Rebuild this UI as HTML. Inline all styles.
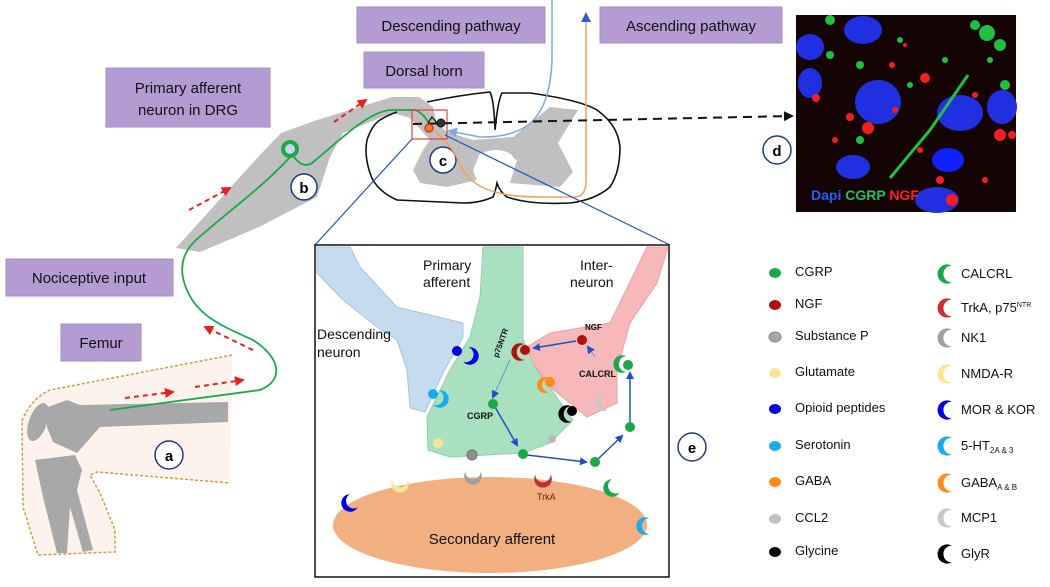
<!DOCTYPE html>
<html><head><meta charset="utf-8"><style>
html,body{margin:0;padding:0;background:#fff;}
svg{display:block;font-family:"Liberation Sans",sans-serif;}
</style></head><body>
<svg width="1050" height="587" viewBox="0 0 1050 587" xmlns="http://www.w3.org/2000/svg">
<defs>
<path id="cr" d="M4,-7 A8,8 0 1,0 4,7 A7,7 0 0,1 4,-7Z"/>
<marker id="ab" markerWidth="8" markerHeight="8" refX="6" refY="4" orient="auto" markerUnits="userSpaceOnUse"><path d="M0,0 L8,4 L0,8Z" fill="#2050c0"/></marker>
<marker id="ar" markerWidth="10" markerHeight="10" refX="8" refY="5" orient="auto" markerUnits="userSpaceOnUse"><path d="M0,0 L10,5 L0,10Z" fill="#e82020"/></marker>
<marker id="ak" markerWidth="10" markerHeight="10" refX="8" refY="5" orient="auto" markerUnits="userSpaceOnUse"><path d="M0,0 L10,5 L0,10Z" fill="#111"/></marker>
<marker id="al" markerWidth="10" markerHeight="10" refX="8" refY="5" orient="auto" markerUnits="userSpaceOnUse"><path d="M0,0 L10,5 L0,10Z" fill="#7ea6e8"/></marker>
<marker id="at" markerWidth="10" markerHeight="10" refX="8" refY="5" orient="auto" markerUnits="userSpaceOnUse"><path d="M0,0 L10,5 L0,10Z" fill="#3060c0"/></marker>
</defs>

<!-- purple labels -->
<g fill="#b49bd1" stroke="#a68cc4">
<rect x="357" y="7" width="188" height="36"/>
<rect x="600" y="7" width="182" height="36"/>
<rect x="364" y="52" width="120" height="36"/>
<rect x="106" y="68" width="164" height="59"/>
<rect x="6" y="259" width="167" height="37"/>
<rect x="61" y="324" width="80" height="37"/>
</g>
<g font-size="15" fill="#111" text-anchor="middle">
<text x="451" y="31">Descending pathway</text>
<text x="691" y="31">Ascending pathway</text>
<text x="424" y="76">Dorsal horn</text>
<text x="188" y="93">Primary afferent</text>
<text x="188" y="115">neuron in DRG</text>
<text x="89" y="283">Nociceptive input</text>
<text x="101" y="348">Femur</text>
</g>

<!-- leg -->
<path d="M232,355 L50,390 Q33,397 22,420 L23,507 L38,555 L115,552 L115,530 L100,493 L90,475 L97,472 L230,483" fill="#fdf3ec" stroke="#c8a040" stroke-width="1.5" stroke-dasharray="3,2"/>
<path d="M48,407 L67,400 L80,405 L228,402 L228,422 L100,427 L77,453 L53,442 L47,427Z" fill="#a8a8a8"/>
<ellipse cx="38" cy="422" rx="9" ry="20" transform="rotate(20 38 422)" fill="#a8a8a8"/>
<path d="M35,460 L75,455 L82,470 L77,490 L93,550 L83,552 L70,507 L67,553 L57,553 L43,497Z" fill="#a8a8a8"/>
<circle cx="169" cy="455" r="14" fill="#fff" stroke="#1f3a7a" stroke-width="1.5"/>
<text x="169" y="461" font-size="15" font-weight="bold" text-anchor="middle">a</text>

<!-- DRG -->
<path d="M176,248 L258,157 L281,133 L317,120 L392,97 L419,97 L433,107 L437,125 L392,113 L343,133 L330,157 L317,197 L259,227 L200,252Z" fill="#c0c0c0"/>

<!-- spinal cord -->
<path d="M403,110 L417,107 L447,132 L473,140 L513,137 L550,107 L578,110 L558,143 L573,172 L560,187 L510,183 L517,160 L497,152 L480,153 L473,170 L477,180 L447,187 L420,183 L413,170 L423,150 L430,140Z" fill="#c0c0c0"/>
<ellipse cx="496" cy="160" rx="18" ry="10" fill="#fff"/>
<path d="M427,102 Q460,95 490,92 Q494,100 495,130 Q498,100 502,93 L530,93 Q580,100 597,110 Q618,125 620,147 Q620,172 610,187 Q595,200 570,203 Q530,205 507,197 Q500,192 497,183 Q495,193 493,197 Q480,203 463,203 L397,200 Q375,190 370,173 Q364,155 367,140 Q372,125 380,120 Q388,115 397,112" fill="none" stroke="#111" stroke-width="1.6"/>

<!-- green nerve -->
<path d="M110,410 L260,390 C285,380 280,357 253,340 C220,325 195,315 185,285 C178,265 185,250 196,240 C230,210 265,185 290,157" fill="none" stroke="#1aa84a" stroke-width="1.8"/>
<path d="M294,157 C300,165 306,167 312,163 C340,140 370,110 392,110 L415,110 C422,112 428,120 430,127" fill="none" stroke="#1aa84a" stroke-width="1.8"/>
<circle cx="290" cy="149" r="7" fill="#c8d4f0" stroke="#1aa84a" stroke-width="4"/>
<circle cx="304" cy="187" r="13" fill="#fff" stroke="#1f3a7a" stroke-width="1.5"/>
<text x="304" y="193" font-size="15" font-weight="bold" text-anchor="middle">b</text>
<circle cx="443" cy="160" r="13" fill="#fff" stroke="#1f3a7a" stroke-width="1.5"/>
<text x="443" y="166" font-size="15" font-weight="bold" text-anchor="middle">c</text>

<!-- red dashed arrows -->
<g stroke="#e82020" stroke-width="2" stroke-dasharray="5,4" marker-end="url(#ar)">
<line x1="125" y1="398" x2="173" y2="392"/>
<line x1="195" y1="387" x2="243" y2="380"/>
<line x1="253" y1="350" x2="205" y2="327"/>
<line x1="189" y1="210" x2="230" y2="188"/>
<line x1="334" y1="122" x2="366" y2="100"/>
</g>

<!-- pathways -->
<path d="M552,0 L552,60 C550,115 530,138 480,137 L449,131" fill="none" stroke="#7ea6e8" stroke-width="1.5" marker-end="url(#al)"/>
<path d="M431,128 C445,140 455,150 460,165 C470,185 490,197 540,197 L575,197 C583,197 586,190 586,180 L586,14" fill="none" stroke="#f4a060" stroke-width="1.5" marker-end="url(#at)"/>
<rect x="412" y="110" width="35" height="29" fill="none" stroke="#e04040" stroke-width="1.2"/>
<line x1="413" y1="124" x2="792" y2="116" stroke="#111" stroke-width="2" stroke-dasharray="9,6" marker-end="url(#ak)"/>
<path d="M428,123 L432,117 L437,123" fill="none" stroke="#111" stroke-width="1.2"/>
<circle cx="441" cy="123" r="4" fill="#333" stroke="#111"/>
<circle cx="429" cy="128" r="4" fill="#f08020" stroke="#e02020" stroke-width="1.2"/>
<line x1="412" y1="139" x2="315" y2="245" stroke="#2050c0" stroke-width="1.2"/>
<line x1="445" y1="135" x2="670" y2="245" stroke="#2050c0" stroke-width="1.2"/>

<!-- microscopy -->
<rect x="796" y="15" width="220" height="197" fill="#150404"/>
<g fill="#2030e0">
<ellipse cx="863" cy="30" rx="19" ry="14"/><ellipse cx="810" cy="47" rx="14" ry="13"/>
<ellipse cx="810" cy="83" rx="12" ry="15"/><ellipse cx="878" cy="102" rx="23" ry="22"/>
<ellipse cx="960" cy="113" rx="23" ry="18"/><ellipse cx="1002" cy="107" rx="15" ry="17"/>
<ellipse cx="948" cy="160" rx="16" ry="12" fill="#1020ff"/><ellipse cx="853" cy="167" rx="17" ry="12"/>
<ellipse cx="937" cy="200" rx="22" ry="13"/>
</g>
<g fill="#20c040">
<path d="M890,178 L930,130 L968,75" stroke="#20c040" stroke-width="3" fill="none"/>
<circle cx="987" cy="33" r="8"/><circle cx="1000" cy="45" r="6"/><circle cx="975" cy="25" r="5"/>
<circle cx="1005" cy="85" r="5"/><circle cx="830" cy="20" r="5"/><circle cx="860" cy="65" r="4"/>
<circle cx="900" cy="40" r="3"/><circle cx="945" cy="60" r="3"/><circle cx="860" cy="140" r="4"/>
<circle cx="830" cy="55" r="4"/><circle cx="910" cy="85" r="3"/><circle cx="990" cy="60" r="3"/>
</g>
<g fill="#f02020">
<circle cx="868" cy="128" r="6"/><circle cx="850" cy="117" r="4"/><circle cx="925" cy="78" r="5"/>
<circle cx="1000" cy="135" r="6"/><circle cx="1012" cy="135" r="4"/><circle cx="816" cy="98" r="4"/>
<circle cx="940" cy="180" r="4"/><circle cx="952" cy="200" r="6"/><circle cx="895" cy="110" r="3"/>
<circle cx="892" cy="65" r="3"/><circle cx="975" cy="95" r="3"/><circle cx="835" cy="140" r="3"/>
<circle cx="920" cy="150" r="3"/><circle cx="985" cy="180" r="3"/><circle cx="905" cy="45" r="2"/>
</g>
<text x="811" y="200" font-size="14" font-weight="bold"><tspan fill="#2060ff">Dapi </tspan><tspan fill="#20c060">CGRP </tspan><tspan fill="#ff2020">NGF</tspan></text>
<circle cx="777" cy="150" r="14" fill="#fff" stroke="#1f3a7a" stroke-width="1.5"/>
<text x="777" y="156" font-size="15" font-weight="bold" text-anchor="middle">d</text>

<!-- detail box -->
<rect x="315" y="245" width="354" height="332" fill="#fff" stroke="#111" stroke-width="1.5"/>
<path d="M317,247 L350,247 L360,267 L397,307 L463,323 L463,337 L443,373 L425,412 L410,408 L407,370 L397,340 L377,327 L343,300 L317,273Z" fill="#c5dbef" stroke="#aac4e0"/>
<path d="M483,247 L523,247 L523,340 L537,370 L573,420 L550,443 L523,453 L450,457 L428,450 L427,417 L450,370 L470,337 L480,297Z" fill="#a8e0c0" stroke="#90d0a8"/>
<path d="M647,247 L668,247 L657,283 L630,323 L617,370 L617,403 L587,417 L570,403 L550,387 L533,363 L527,347 L550,333 L610,323Z" fill="#f6b8b8" stroke="#eea0a0"/>
<ellipse cx="490" cy="525" rx="157" ry="48" fill="#f2b080"/>
<g font-size="14" fill="#111">
<text x="423" y="270">Primary</text><text x="423" y="287">afferent</text>
<text x="580" y="270">Inter-</text><text x="570" y="287">neuron</text>
<text x="317" y="339">Descending</text><text x="317" y="357">neuron</text>
<text x="492" y="544" text-anchor="middle" font-size="15">Secondary afferent</text>
</g>
<g font-size="9" font-weight="bold" fill="#111">
<text x="467" y="419">CGRP</text><text x="579" y="377">CALCRL</text>
<text x="585" y="330" font-size="8">NGF</text>
<text x="537" y="500" fill="#7a1010" font-weight="normal">TrkA</text>
<text x="498" y="358" transform="rotate(-70 498 358)" font-size="8">p75NTR</text>
</g>
<!-- blue arrows -->
<g stroke="#2050c0" stroke-width="1.5" fill="none" marker-end="url(#ab)">
<line x1="495" y1="407" x2="517" y2="445"/>
<line x1="527" y1="455" x2="586" y2="462"/>
<line x1="598" y1="459" x2="622" y2="436"/>
<line x1="630" y1="422" x2="630" y2="373"/>
<line x1="576" y1="341" x2="534" y2="348"/>
</g>
<line x1="510" y1="360" x2="493" y2="397" stroke="#6080d0" stroke-width="0.8" marker-end="url(#ab)"/>
<line x1="595" y1="357" x2="588" y2="347" stroke="#6080d0" stroke-width="0.8" marker-end="url(#ab)"/>
<!-- receptors in box -->
<use href="#cr" transform="translate(520,352) scale(1.1)" fill="#b01010"/>
<circle cx="525" cy="350" r="5" fill="#b01010"/>
<use href="#cr" transform="translate(470,356) rotate(200) scale(1.1)" fill="#0000e0"/>
<circle cx="457" cy="351" r="5" fill="#0000e0"/>
<use href="#cr" transform="translate(440,399) rotate(200) scale(1.1)" fill="#1aaaf0"/>
<circle cx="433" cy="394" r="5" fill="#1aaaf0"/>
<use href="#cr" transform="translate(545,385) scale(1.0)" fill="#ff8c1a"/>
<circle cx="550" cy="382" r="5" fill="#ff8c1a"/>
<use href="#cr" transform="translate(567,414) scale(1.1)" fill="#000"/>
<circle cx="572" cy="411" r="5" fill="#000"/>
<use href="#cr" transform="translate(604,403) scale(1.0)" fill="#c8c8c8"/>
<use href="#cr" transform="translate(622,364) scale(1.1)" fill="#1aa84a"/>
<circle cx="552" cy="439" r="4" fill="#b8b8b8"/>
<circle cx="438" cy="443" r="5" fill="#fde39a"/>
<circle cx="472" cy="455" r="5" fill="#909090" stroke="#707070"/>
<use href="#cr" transform="translate(350,503) rotate(-30) scale(1.1)" fill="#0000e0"/>
<use href="#cr" transform="translate(400,484) rotate(-90) scale(1.1)" fill="#fde39a"/>
<use href="#cr" transform="translate(473,476) rotate(-90) scale(1.1)" fill="#a0a0a0"/>
<use href="#cr" transform="translate(543,479) rotate(-90) scale(1.1)" fill="#c03030"/>
<use href="#cr" transform="translate(612,488) rotate(-30) scale(1.1)" fill="#1aa84a"/>
<use href="#cr" transform="translate(645,526) scale(1.1)" fill="#1aaaf0"/>
<g fill="#1aa84a">
<circle cx="493" cy="404" r="5"/><circle cx="523" cy="454" r="5"/><circle cx="595" cy="462" r="5"/>
<circle cx="630" cy="427" r="5"/><circle cx="628" cy="365" r="5"/>
</g>
<circle cx="582" cy="340" r="5" fill="#b01010"/>
<circle cx="692" cy="447" r="14" fill="#fff" stroke="#1f3a7a" stroke-width="1.5"/>
<text x="692" y="453" font-size="15" font-weight="bold" text-anchor="middle">e</text>

<!-- legend -->
<g>
<ellipse cx="775" cy="273" rx="6" ry="5" fill="#1aa84a"/>
<ellipse cx="775" cy="305" rx="6" ry="5" fill="#b01010"/>
<ellipse cx="775" cy="337" rx="6" ry="5" fill="#a8a8a8" stroke="#888"/>
<ellipse cx="775" cy="373" rx="6" ry="5" fill="#fde39a"/>
<ellipse cx="775" cy="409" rx="6" ry="5" fill="#0000e0"/>
<ellipse cx="775" cy="446" rx="6" ry="5" fill="#1aaaf0"/>
<ellipse cx="775" cy="482" rx="6" ry="5" fill="#ff8c1a"/>
<ellipse cx="775" cy="519" rx="6" ry="5" fill="#c0c0c0"/>
<ellipse cx="775" cy="552" rx="6" ry="5" fill="#000"/>
</g>
<g font-size="13" fill="#111">
<text x="795" y="276">CGRP</text><text x="795" y="308">NGF</text><text x="795" y="340">Substance P</text>
<text x="795" y="376">Glutamate</text><text x="795" y="412">Opioid peptides</text><text x="795" y="449">Serotonin</text>
<text x="795" y="485">GABA</text><text x="795" y="522">CCL2</text><text x="795" y="555">Glycine</text>
<text x="961" y="278">CALCRL</text><text x="961" y="312">TrkA, p75<tspan font-size="7" dy="-5">NTR</tspan></text>
<text x="961" y="342">NK1</text><text x="961" y="378">NMDA-R</text><text x="961" y="414">MOR &amp; KOR</text>
<text x="961" y="450">5-HT<tspan font-size="8" dy="3">2A &amp; 3</tspan></text>
<text x="961" y="487">GABA<tspan font-size="8" dy="3">A &amp; B</tspan></text>
<text x="961" y="522">MCP1</text><text x="961" y="558">GlyR</text>
</g>
<g>
<use href="#cr" transform="translate(947,274) scale(1.2)" fill="#1aa84a"/>
<use href="#cr" transform="translate(947,308) scale(1.2)" fill="#c83030"/>
<use href="#cr" transform="translate(947,338) scale(1.2)" fill="#a0a0a0"/>
<use href="#cr" transform="translate(947,374) scale(1.2)" fill="#fde39a"/>
<use href="#cr" transform="translate(947,410) scale(1.2)" fill="#0000e0"/>
<use href="#cr" transform="translate(947,446) scale(1.2)" fill="#1aaaf0"/>
<use href="#cr" transform="translate(947,483) scale(1.2)" fill="#ff8c1a"/>
<use href="#cr" transform="translate(947,518) scale(1.2)" fill="#c8c8c8"/>
<use href="#cr" transform="translate(947,554) scale(1.2)" fill="#000"/>
</g>
</svg>
</body></html>
